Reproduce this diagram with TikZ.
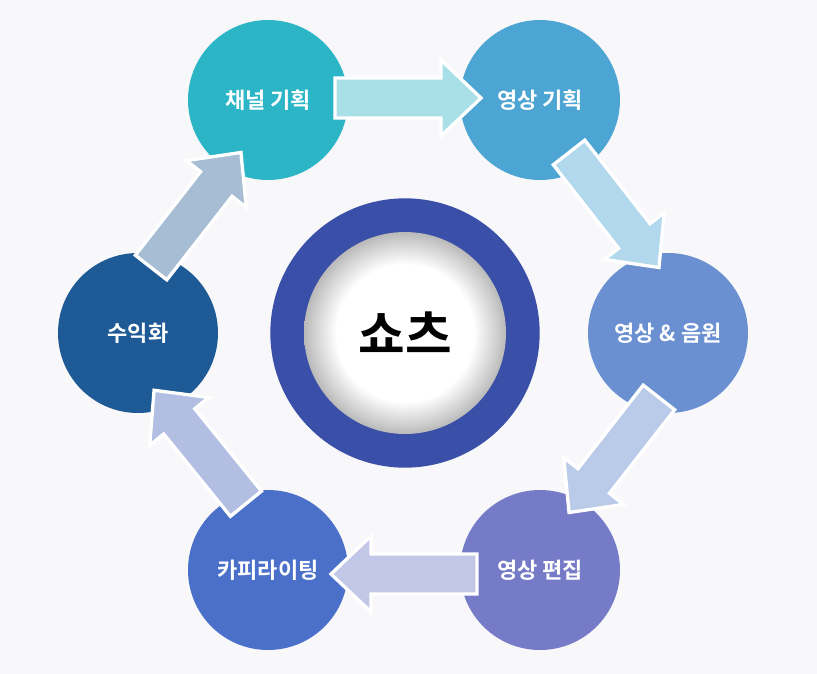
\documentclass[tikz,border=0pt]{standalone}
\usepackage{fontspec}
\setmainfont{Noto Sans CJK KR}[BoldFont={Noto Sans CJK KR Bold}]
\definecolor{bg}{HTML}{F8F8FA}
\definecolor{cA}{HTML}{2BB5C6}\definecolor{cB}{HTML}{4DA5D3}
\definecolor{cC}{HTML}{6A90D1}\definecolor{cD}{HTML}{767BC7}
\definecolor{cE}{HTML}{4A70C9}\definecolor{cF}{HTML}{1E5A95}
\definecolor{aA}{HTML}{A9DFE7}\definecolor{aB}{HTML}{B1D8EC}
\definecolor{aC}{HTML}{BACAE9}\definecolor{aD}{HTML}{C3C7E7}
\definecolor{aE}{HTML}{B2BFE3}\definecolor{aF}{HTML}{A6BDD4}
\definecolor{ring}{HTML}{3A4FA8}
\pgfdeclareradialshading{inn}{\pgfpoint{0bp}{0bp}}{color(0bp)=(white);color(17bp)=(white);color(23bp)=(gray!40);color(25bp)=(gray!55);color(50bp)=(gray!55)}
\begin{document}
\begin{tikzpicture}[x=0.75pt,y=-0.75pt,
  bub/.style={circle,minimum size=120pt,inner sep=0pt,text=white,font=\bfseries\fontsize{16.5}{20}\selectfont},
  blk/.style={draw=white,line width=2.5pt,line join=miter}]
\fill[bg] (0,0) rectangle (817,674);
\node[bub,fill=cA] (a) at (268,100) {채널 기획};
\node[bub,fill=cB] (b) at (540,100) {영상 기획};
\node[bub,fill=cC] (c) at (668,333) {영상 \& 음원};
\node[bub,fill=cD] (d) at (540,570) {영상 편집};
\node[bub,fill=cE] (e) at (268,570) {카피라이팅};
\node[bub,fill=cF] (f) at (138,333) {수익화};
\foreach \px/\py/\r/\c in {408/98/0/aA, 614/210/-52/aB, 614/455/-128/aC, 404/574/180/aD, 200/447/129/aE, 196/210/52/aF}{
  \begin{scope}[shift={(\px,\py)},rotate=\r]
  \draw[blk,fill=\c] (-73,-20) -- (33,-20) -- (33,-38) -- (73,0) -- (33,38) -- (33,20) -- (-73,20) -- cycle;
  \end{scope}}
\node[circle,fill=ring,minimum size=202pt,inner sep=0pt] (ring) at (405,333) {};
\shade[shading=inn] (405,333) circle (101);
\node[font=\bfseries\fontsize{38}{44}\selectfont] (t) at (405,333) {쇼츠};
\end{tikzpicture}
\end{document}
